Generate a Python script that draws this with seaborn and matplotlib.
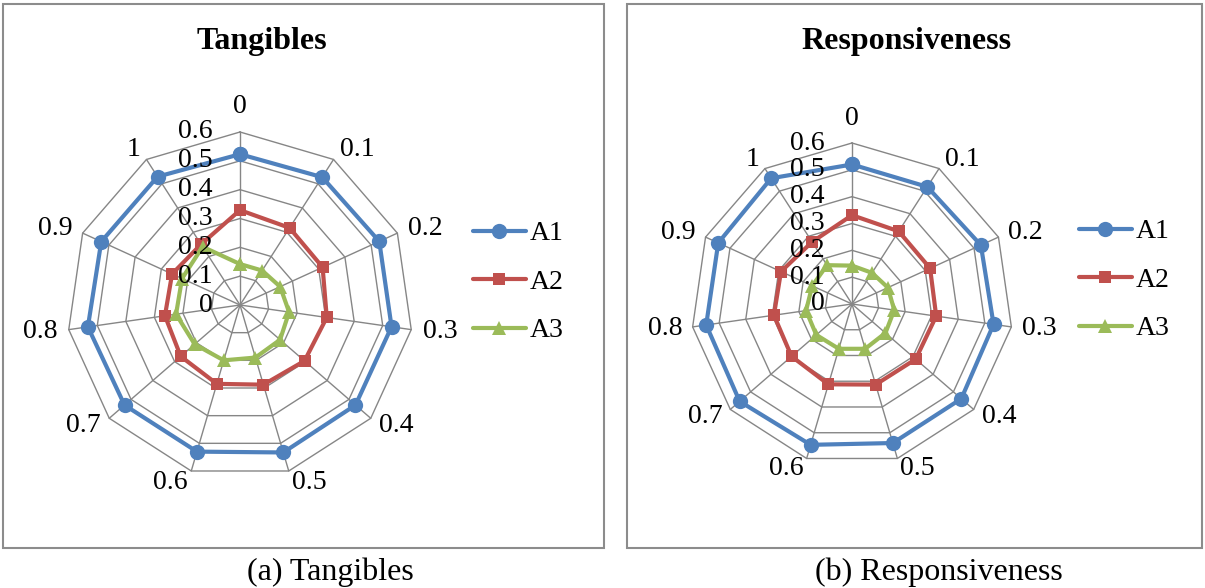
import numpy as np
import pandas as pd
import matplotlib
matplotlib.use("Agg")
import matplotlib.pyplot as plt
import matplotlib.transforms as mtransforms
from matplotlib.patches import Rectangle
import seaborn as sns

# categories (spokes) and radial tick levels
categories = ["0", "0.1", "0.2", "0.3", "0.4", "0.5", "0.6", "0.7", "0.8", "0.9", "1"]
r_ticks = [0, 0.1, 0.2, 0.3, 0.4, 0.5, 0.6]
series_names = ["A1", "A2", "A3"]

# Tangibles
tang_a1 = [0.523, 0.527, 0.531, 0.531, 0.530, 0.533, 0.530, 0.530, 0.533, 0.529, 0.529]
tang_a2 = [0.329, 0.318, 0.315, 0.304, 0.296, 0.288, 0.285, 0.272, 0.263, 0.259, 0.250]
tang_a3 = [0.142, 0.142, 0.153, 0.172, 0.184, 0.190, 0.200, 0.208, 0.224, 0.221, 0.240]

# Responsiveness
resp_a1 = [0.520, 0.519, 0.528, 0.533, 0.539, 0.540, 0.547, 0.554, 0.549, 0.548, 0.557]
resp_a2 = [0.331, 0.322, 0.320, 0.317, 0.314, 0.313, 0.312, 0.298, 0.294, 0.291, 0.275]
resp_a3 = [0.143, 0.138, 0.147, 0.159, 0.165, 0.174, 0.174, 0.176, 0.173, 0.163, 0.172]

colors = {"A1": "#4F81BD", "A2": "#C0504D", "A3": "#9BBB59"}
markers = {"A1": "o", "A2": "s", "A3": "^"}
msizes = {"A1": 11, "A2": 8.5, "A3": 9.5}
GRID = "#868686"
FS = 20

sns.set_style("white")
plt.rcParams["font.family"] = ["Liberation Serif", "DejaVu Serif"]
plt.rcParams["text.color"] = "black"

W, H = 1205, 588
fig = plt.figure(figsize=(W / 100, H / 100), dpi=100)


def make_frame(df):
    # close each loop by repeating the first category at 2*pi
    n = len(categories)
    angles = np.linspace(0, 2 * np.pi, n, endpoint=False)
    rows = []
    for name in series_names:
        vals = list(df[name])
        for a, v in zip(list(angles) + [2 * np.pi], vals + [vals[0]]):
            rows.append({"angle": a, "value": v, "series": name})
    return pd.DataFrame(rows), angles


def radar(cx, cy, rad, title, tx, data, leg_x, leg_y):
    ax = fig.add_axes([(cx - rad) / W, (H - cy - rad) / H, 2 * rad / W, 2 * rad / H],
                      projection="polar")
    ax.set_theta_zero_location("N")
    ax.set_theta_direction(-1)
    long_df, angles = make_frame(data)

    # polygon grid and spokes
    closed = np.append(angles, angles[0])
    for lev in r_ticks[1:]:
        ax.plot(closed, [lev] * len(closed), color=GRID, lw=1.0, clip_on=False, zorder=1)
    for a in angles:
        ax.plot([a, a], [0, r_ticks[-1]], color=GRID, lw=1.0, clip_on=False, zorder=1)

    for name in series_names:
        sub = long_df[long_df["series"] == name]
        sns.lineplot(data=sub, x="angle", y="value", ax=ax, color=colors[name],
                     marker=markers[name], markersize=msizes[name], markeredgewidth=0,
                     linewidth=3.0, label=name, clip_on=False, zorder=3)

    ax.set_ylim(0, r_ticks[-1])
    ax.set_xticks([])
    ax.set_yticks([])
    ax.grid(False)
    ax.spines["polar"].set_visible(False)
    ax.set_xlabel("")
    ax.set_ylabel("")
    ax.patch.set_alpha(0)

    # radial tick labels left of the vertical spoke
    off = mtransforms.offset_copy(ax.transData, fig=fig, x=-19.5, y=0, units="points")
    for lev in r_ticks:
        ax.text(0, lev, f"{lev:g}", transform=off, ha="right", va="center", fontsize=FS)

    # category labels around the outside
    for a, lab in zip(angles, categories):
        s, c = np.sin(a), np.cos(a)
        if abs(s) < 0.05:
            ax.text(a, 0.645, lab, ha="center", va="bottom" if c > 0 else "top",
                    fontsize=FS, clip_on=False)
        else:
            ax.text(a, 0.64, lab, ha="left" if s > 0 else "right", va="center",
                    fontsize=FS, clip_on=False)

    fig.text(tx / W, 1 - 42 / H, title, ha="center", va="center", fontsize=23,
             fontweight="bold", color="black")

    ax.legend(loc="center left", bbox_to_anchor=(leg_x / W, 1 - leg_y / H),
              bbox_transform=fig.transFigure, frameon=False, fontsize=FS,
              handlelength=1.9, handletextpad=0.15, labelspacing=0.83, borderpad=0,
              borderaxespad=0, labelcolor="black")
    return ax


tang = {"A1": tang_a1, "A2": tang_a2, "A3": tang_a3}
resp = {"A1": resp_a1, "A2": resp_a2, "A3": resp_a3}

radar(240, 305, 173, "Tangibles", 262, tang, 473, 282)
radar(852, 304, 161, "Responsiveness", 906, resp, 1079, 280)

# panel frames
for x0, x1 in [(3, 604), (627, 1202)]:
    fig.patches.append(Rectangle((x0 / W, (H - 548) / H), (x1 - x0) / W, 544 / H,
                                 transform=fig.transFigure, fill=False,
                                 edgecolor="#8C8C8C", lw=1.5))

fig.text(330 / W, 1 - 572 / H, "(a) Tangibles", ha="center", va="center", fontsize=23)
fig.text(939 / W, 1 - 572 / H, "(b) Responsiveness", ha="center", va="center", fontsize=23)

fig.savefig("out.png", dpi=100)
